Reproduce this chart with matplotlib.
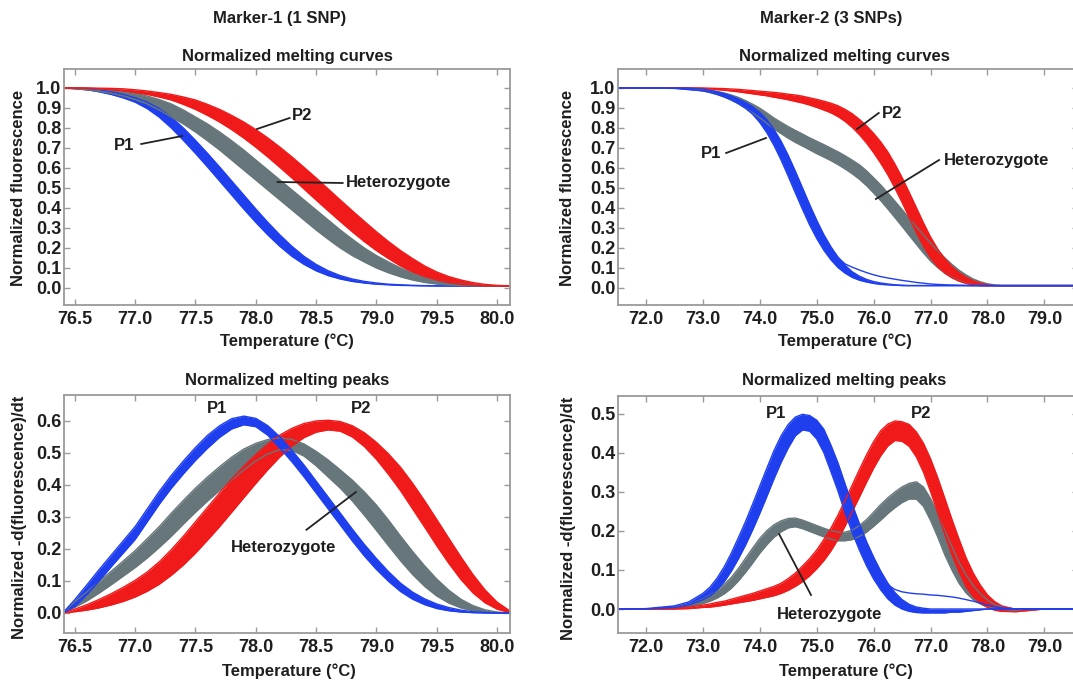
import numpy as np
import matplotlib
matplotlib.use("Agg")
import matplotlib.pyplot as plt

plt.rcParams['font.family'] = ['Liberation Sans', 'DejaVu Sans']
plt.rcParams['font.weight'] = 'bold'

BLUE = '#1f3fef'
RED = '#f01a1a'
GREY = '#66767a'
TXT = '#1e1e1e'
FRAME = '#9a9a9a'

# ---- Marker-1 melting curves (panel A) ----
t_m1 = [76.4, 76.5, 76.6, 76.7, 76.8, 76.9, 77.0, 77.1, 77.2, 77.3,
        77.4, 77.5, 77.6, 77.7, 77.8, 77.9, 78.0, 78.1, 78.2, 78.3,
        78.4, 78.5, 78.6, 78.7, 78.8, 78.9, 79.0, 79.1, 79.2, 79.3,
        79.4, 79.5, 79.6, 79.7, 79.8, 79.9, 80.0, 80.1, 80.2]
a_p1_hi = [1.0, 1.0, 0.997, 0.991, 0.981, 0.968, 0.951, 0.929, 0.897, 0.854,
           0.80, 0.738, 0.673, 0.605, 0.535, 0.465, 0.395, 0.328, 0.265, 0.208,
           0.158, 0.118, 0.086, 0.062, 0.045, 0.033, 0.025, 0.019, 0.016, 0.013,
           0.012, 0.011] + [0.01] * 7
a_p1_lo = [1.0, 0.997, 0.991, 0.981, 0.968, 0.951, 0.929, 0.897, 0.854, 0.80,
           0.738, 0.673, 0.605, 0.535, 0.465, 0.395, 0.328, 0.265, 0.208, 0.158,
           0.118, 0.086, 0.062, 0.045, 0.033, 0.025, 0.019, 0.016, 0.013, 0.012,
           0.011] + [0.01] * 8
a_het_hi = [1.0, 1.0, 0.999, 0.996, 0.991, 0.984, 0.974, 0.96, 0.942, 0.92,
            0.89, 0.855, 0.82, 0.78, 0.736, 0.69, 0.64, 0.59, 0.54, 0.49,
            0.44, 0.39, 0.34, 0.29, 0.244, 0.20, 0.162, 0.13, 0.1, 0.076,
            0.056, 0.04, 0.028, 0.02, 0.015, 0.012, 0.011, 0.01, 0.01]
a_het_lo = [1.0, 0.996, 0.991, 0.984, 0.974, 0.96, 0.942, 0.92, 0.89, 0.855,
            0.82, 0.78, 0.736, 0.69, 0.64, 0.59, 0.54, 0.49, 0.44, 0.39,
            0.34, 0.29, 0.244, 0.20, 0.162, 0.13, 0.1, 0.076, 0.056, 0.04,
            0.028, 0.02, 0.015, 0.012, 0.011, 0.01, 0.01, 0.01, 0.01]
a_p2_hi = [1.0, 1.0, 1.0, 0.999, 0.998, 0.996, 0.991, 0.985, 0.977, 0.968,
           0.955, 0.94, 0.918, 0.893, 0.863, 0.83, 0.792, 0.75, 0.704, 0.655,
           0.603, 0.55, 0.495, 0.44, 0.386, 0.333, 0.281, 0.232, 0.187, 0.147,
           0.11, 0.08, 0.057, 0.04, 0.027, 0.018, 0.013, 0.011, 0.01]
a_p2_lo = [1.0, 0.999, 0.998, 0.996, 0.991, 0.985, 0.977, 0.968, 0.955, 0.94,
           0.918, 0.893, 0.863, 0.83, 0.792, 0.75, 0.704, 0.655, 0.603, 0.55,
           0.495, 0.44, 0.386, 0.333, 0.281, 0.232, 0.187, 0.147, 0.11, 0.08,
           0.057, 0.04, 0.027, 0.018, 0.013, 0.011, 0.01, 0.01, 0.01]

# ---- Marker-1 melting peaks (panel C) ----
c_p1_hi = [0.0, 0.042, 0.088, 0.135, 0.18, 0.225, 0.27, 0.325, 0.38, 0.43,
           0.475, 0.517, 0.555, 0.585, 0.607, 0.615, 0.608, 0.585, 0.55, 0.508,
           0.462, 0.412, 0.362, 0.312, 0.262, 0.214, 0.17, 0.129, 0.093, 0.065,
           0.044, 0.028, 0.017, 0.009, 0.004, 0.002, 0.0, 0.0, 0.0]
c_p1_lo = [0.0, 0.02, 0.058, 0.1, 0.144, 0.187, 0.23, 0.285, 0.34, 0.39,
           0.435, 0.477, 0.515, 0.549, 0.575, 0.588, 0.582, 0.555, 0.515, 0.472,
           0.425, 0.375, 0.325, 0.275, 0.225, 0.178, 0.136, 0.099, 0.067, 0.043,
           0.026, 0.014, 0.007, 0.003, 0.001, 0.0, 0.0, 0.0, 0.0]
c_het_hi = [0.0, 0.035, 0.066, 0.098, 0.13, 0.162, 0.195, 0.232, 0.27, 0.312,
            0.352, 0.39, 0.425, 0.457, 0.487, 0.512, 0.53, 0.542, 0.547, 0.542,
            0.528, 0.505, 0.478, 0.447, 0.415, 0.378, 0.337, 0.29, 0.24, 0.192,
            0.147, 0.106, 0.071, 0.043, 0.023, 0.01, 0.003, 0.0, 0.0]
c_het_lo = [0.0, 0.018, 0.038, 0.062, 0.088, 0.115, 0.142, 0.172, 0.205, 0.24,
            0.278, 0.315, 0.35, 0.383, 0.415, 0.447, 0.475, 0.497, 0.51, 0.508,
            0.49, 0.46, 0.425, 0.39, 0.35, 0.305, 0.258, 0.21, 0.163, 0.12,
            0.083, 0.053, 0.031, 0.016, 0.007, 0.002, 0.0, 0.0, 0.0]
c_p2_hi = [0.0, 0.012, 0.026, 0.042, 0.06, 0.08, 0.102, 0.128, 0.16, 0.198,
           0.24, 0.285, 0.33, 0.375, 0.418, 0.458, 0.495, 0.528, 0.556, 0.577,
           0.592, 0.6, 0.602, 0.598, 0.585, 0.563, 0.533, 0.497, 0.455, 0.405,
           0.35, 0.292, 0.233, 0.175, 0.12, 0.072, 0.034, 0.008, 0.0]
c_p2_lo = [0.0, 0.004, 0.009, 0.016, 0.025, 0.036, 0.05, 0.068, 0.09, 0.118,
           0.15, 0.187, 0.228, 0.27, 0.315, 0.36, 0.405, 0.448, 0.488, 0.522,
           0.548, 0.565, 0.572, 0.568, 0.55, 0.52, 0.48, 0.433, 0.382, 0.325,
           0.268, 0.21, 0.155, 0.105, 0.063, 0.032, 0.012, 0.002, 0.0]

# ---- Marker-2 melting curves (panel B) ----
t_m2 = [71.5, 72.0, 72.5, 72.75, 73.0, 73.125, 73.25, 73.375, 73.5, 73.625,
        73.75, 73.875, 74.0, 74.125, 74.25, 74.375, 74.5, 74.625, 74.75, 74.875,
        75.0, 75.125, 75.25, 75.375, 75.5, 75.625, 75.75, 75.875, 76.0, 76.125,
        76.25, 76.375, 76.5, 76.625, 76.75, 76.875, 77.0, 77.125, 77.25, 77.375,
        77.5, 77.625, 77.75, 77.875, 78.0, 78.125, 78.25, 78.5, 79.0, 79.5]
b_p1_hi = [1.0, 1.0, 1.0, 0.999, 0.995, 0.988, 0.981, 0.972, 0.96, 0.945,
           0.928, 0.906, 0.878, 0.841, 0.793, 0.734, 0.663, 0.584, 0.501, 0.418,
           0.339, 0.267, 0.206, 0.154, 0.113, 0.081, 0.059, 0.043, 0.032, 0.025,
           0.02, 0.016, 0.014] + [0.012] * 17
b_p1_lo = [1.0, 1.0, 0.998, 0.992, 0.986, 0.979, 0.969, 0.956, 0.941, 0.922,
           0.899, 0.869, 0.828, 0.776, 0.713, 0.64, 0.559, 0.476, 0.394, 0.316,
           0.248, 0.189, 0.141, 0.102, 0.074, 0.053, 0.039, 0.03, 0.023, 0.018,
           0.016, 0.014, 0.012] + [0.012] * 17
b_p1_tail = [None] * 23 + [0.152, 0.12, 0.104, 0.09, 0.077, 0.066, 0.057, 0.05,
                           0.044, 0.038, 0.033, 0.028, 0.024, 0.02, 0.018, 0.016,
                           0.015, 0.014, 0.013] + [0.012] * 8
b_het_hi = [1.0, 1.0, 1.0, 0.999, 0.993, 0.989, 0.983, 0.975, 0.965, 0.953,
            0.937, 0.919, 0.899, 0.875, 0.85, 0.828, 0.807, 0.788, 0.77, 0.751,
            0.734, 0.717, 0.699, 0.681, 0.661, 0.639, 0.616, 0.586, 0.551, 0.515,
            0.475, 0.434, 0.392, 0.349, 0.307, 0.265, 0.225, 0.186, 0.151, 0.118,
            0.089, 0.065, 0.045, 0.031, 0.021, 0.015, 0.012, 0.012, 0.012, 0.012]
b_het_lo = [1.0, 1.0, 1.0, 0.995, 0.985, 0.977, 0.967, 0.955, 0.939, 0.921,
            0.899, 0.875, 0.851, 0.823, 0.796, 0.772, 0.749, 0.728, 0.71, 0.691,
            0.672, 0.655, 0.637, 0.617, 0.595, 0.571, 0.544, 0.512, 0.475, 0.437,
            0.395, 0.352, 0.308, 0.263, 0.219, 0.175, 0.135, 0.102, 0.075, 0.054,
            0.037, 0.025, 0.017, 0.013, 0.012, 0.012, 0.012, 0.012, 0.012, 0.012]
b_p2_hi = [1.0, 1.0, 1.0, 1.0, 1.0, 0.999, 0.998, 0.997, 0.995, 0.993,
           0.99, 0.987, 0.984, 0.981, 0.978, 0.974, 0.969, 0.965, 0.959, 0.951,
           0.943, 0.934, 0.924, 0.911, 0.893, 0.871, 0.843, 0.811, 0.773, 0.73,
           0.68, 0.619, 0.552, 0.478, 0.402, 0.326, 0.255, 0.195, 0.146, 0.107,
           0.076, 0.053, 0.036, 0.024, 0.016, 0.012, 0.012, 0.012, 0.012, 0.012]
b_p2_lo = [1.0, 1.0, 1.0, 1.0, 0.998, 0.995, 0.992, 0.989, 0.985, 0.981,
           0.976, 0.971, 0.966, 0.961, 0.954, 0.948, 0.941, 0.933, 0.925, 0.915,
           0.903, 0.89, 0.876, 0.857, 0.833, 0.803, 0.767, 0.725, 0.677, 0.624,
           0.566, 0.499, 0.428, 0.352, 0.278, 0.21, 0.151, 0.107, 0.074, 0.051,
           0.034, 0.023, 0.016, 0.012, 0.012, 0.012, 0.012, 0.012, 0.012, 0.012]

# ---- Marker-2 melting peaks (panel D) ----
d_p1_hi = [0.0, 0.001, 0.008, 0.018, 0.04, 0.056, 0.079, 0.108, 0.143, 0.183,
           0.224, 0.269, 0.315, 0.361, 0.406, 0.444, 0.473, 0.492, 0.499, 0.496,
           0.484, 0.461, 0.42, 0.374, 0.32, 0.268, 0.219, 0.173, 0.133, 0.097,
           0.066, 0.042, 0.024, 0.012, 0.005, 0.002, 0.0, 0.0, 0.0, 0.0,
           0.0, 0.0, 0.0, 0.0, 0.0, 0.0, 0.0, 0.0, 0.0, 0.0]
d_p1_lo = [0.0, 0.0, 0.004, 0.01, 0.024, 0.034, 0.049, 0.07, 0.097, 0.129,
           0.164, 0.203, 0.245, 0.289, 0.334, 0.376, 0.413, 0.444, 0.459, 0.456,
           0.436, 0.401, 0.352, 0.302, 0.246, 0.196, 0.151, 0.111, 0.077, 0.049,
           0.026, 0.01, 0.0, -0.006, -0.009, -0.01, -0.01, -0.01, -0.01, -0.008,
           -0.008, -0.006, -0.004, -0.002, 0.0, 0.0, 0.0, 0.0, 0.0, 0.0]
d_p1_tail = [None] * 30 + [0.062, 0.05, 0.044, 0.041, 0.039, 0.038, 0.036, 0.035,
                           0.033, 0.031, 0.028, 0.024, 0.02, 0.015, 0.01, 0.006,
                           0.003, 0.0, 0.0, 0.0]
d_het_hi = [0.0, 0.0, 0.005, 0.011, 0.026, 0.036, 0.048, 0.063, 0.081, 0.104,
            0.13, 0.156, 0.181, 0.201, 0.216, 0.226, 0.232, 0.233, 0.228, 0.221,
            0.214, 0.207, 0.201, 0.197, 0.197, 0.202, 0.214, 0.229, 0.248, 0.268,
            0.285, 0.3, 0.313, 0.322, 0.326, 0.313, 0.283, 0.245, 0.201, 0.16,
            0.12, 0.087, 0.06, 0.039, 0.023, 0.011, 0.005, 0.0, 0.0, 0.0]
d_het_lo = [0.0, 0.0, 0.001, 0.005, 0.014, 0.02, 0.028, 0.039, 0.053, 0.072,
            0.094, 0.118, 0.143, 0.165, 0.184, 0.198, 0.208, 0.211, 0.206, 0.199,
            0.192, 0.185, 0.179, 0.175, 0.175, 0.178, 0.186, 0.197, 0.212, 0.228,
            0.245, 0.26, 0.273, 0.282, 0.282, 0.263, 0.227, 0.185, 0.139, 0.1,
            0.066, 0.041, 0.024, 0.013, 0.005, 0.001, -0.001, -0.004, 0.0, 0.0]
d_p2_hi = [0.0, 0.0, 0.002, 0.005, 0.01, 0.013, 0.017, 0.02, 0.025, 0.03,
           0.035, 0.04, 0.046, 0.052, 0.058, 0.066, 0.078, 0.092, 0.11, 0.129,
           0.151, 0.178, 0.207, 0.241, 0.279, 0.318, 0.357, 0.395, 0.429, 0.457,
           0.474, 0.482, 0.48, 0.473, 0.454, 0.425, 0.385, 0.337, 0.284, 0.23,
           0.179, 0.131, 0.092, 0.061, 0.036, 0.019, 0.008, -0.001, 0.0, 0.0]
d_p2_lo = [0.0, 0.0, 0.0, 0.001, 0.004, 0.005, 0.007, 0.01, 0.013, 0.016,
           0.019, 0.022, 0.026, 0.03, 0.034, 0.04, 0.048, 0.058, 0.07, 0.085,
           0.103, 0.124, 0.149, 0.179, 0.213, 0.25, 0.287, 0.325, 0.361, 0.393,
           0.418, 0.432, 0.43, 0.417, 0.39, 0.351, 0.301, 0.247, 0.192, 0.14,
           0.095, 0.057, 0.032, 0.015, 0.004, -0.003, -0.006, -0.007, 0.0, 0.0]

x_ticks_m1 = [76.5, 77.0, 77.5, 78.0, 78.5, 79.0, 79.5, 80.0]
x_ticks_m2 = [72.0, 73.0, 74.0, 75.0, 76.0, 77.0, 78.0, 79.0]

W, H = 1073, 684
fig = plt.figure(figsize=(W / 100, H / 100), dpi=100)


def px_axes(left, top, right, bottom):
    return fig.add_axes([left / W, 1 - bottom / H, (right - left) / W, (bottom - top) / H])


def band(ax, t, lo, hi, color):
    t = np.array(t, dtype=float)
    lo = np.array(lo, dtype=float)
    hi = np.array(hi, dtype=float)
    ax.fill_between(t, lo, hi, color=color, lw=0)
    ax.plot(t, lo, color=color, lw=1.0)
    ax.plot(t, hi, color=color, lw=1.0)


def tail(ax, t, y, color):
    y = np.array([np.nan if v is None else v for v in y], dtype=float)
    ax.plot(t, y, color=color, lw=1.0)


def style(ax, xlim, ylim, xt, yt):
    ax.set_xlim(*xlim)
    ax.set_ylim(*ylim)
    ax.set_xticks(xt)
    ax.set_xticklabels(['%.1f' % v for v in xt])
    ax.set_yticks(yt)
    ax.set_yticklabels(['%.1f' % v for v in yt])
    for s in ax.spines.values():
        s.set_color(FRAME)
        s.set_linewidth(1.3)
    ax.tick_params(direction='in', length=4, width=1, color=FRAME,
                   top=True, right=True, labelsize=13, labelcolor=TXT)
    ax.tick_params(axis='x', pad=4)
    ax.tick_params(axis='y', pad=2)


def label(ax, s, xy, ha='center'):
    ax.text(xy[0], xy[1], s, ha=ha, va='center', fontsize=12, color=TXT, fontweight='bold')


def pointer(ax, p0, p1):
    ax.plot([p0[0], p1[0]], [p0[1], p1[1]], color='#222222', lw=1.3)


# Panel A
ax = px_axes(64, 69, 510, 305)
band(ax, t_m1, a_p1_lo, a_p1_hi, BLUE)
band(ax, t_m1, a_het_lo, a_het_hi, GREY)
band(ax, t_m1, a_p2_lo, a_p2_hi, RED)
style(ax, (76.41, 80.107), (-0.085, 1.095), x_ticks_m1, [i / 10 for i in range(11)])
pointer(ax, (78.01, 0.795), (78.28, 0.85))
label(ax, 'P2', (78.30, 0.86), ha='left')
pointer(ax, (77.05, 0.72), (77.39, 0.76))
label(ax, 'P1', (76.91, 0.71))
pointer(ax, (78.18, 0.53), (78.72, 0.525))
label(ax, 'Heterozygote', (78.75, 0.525), ha='left')

# Panel B
ax = px_axes(618, 69, 1078, 305)
band(ax, t_m2, b_het_lo, b_het_hi, GREY)
band(ax, t_m2, b_p2_lo, b_p2_hi, RED)
tail(ax, t_m2, b_p1_tail, BLUE)
band(ax, t_m2, b_p1_lo, b_p1_hi, BLUE)
style(ax, (71.51, 79.59), (-0.085, 1.095), x_ticks_m2, [i / 10 for i in range(11)])
pointer(ax, (75.71, 0.795), (76.09, 0.875))
label(ax, 'P2', (76.15, 0.875), ha='left')
pointer(ax, (73.41, 0.675), (74.11, 0.75))
label(ax, 'P1', (73.14, 0.67))
pointer(ax, (76.04, 0.445), (77.15, 0.64))
label(ax, 'Heterozygote', (77.24, 0.64), ha='left')

# Panel C
ax = px_axes(64, 395, 510, 633)
band(ax, t_m1, c_het_lo, c_het_hi, GREY)
band(ax, t_m1, c_p2_lo, c_p2_hi, RED)
band(ax, t_m1, c_p1_lo, c_p1_hi, BLUE)
style(ax, (76.41, 80.107), (-0.0625, 0.681), x_ticks_m1, [i / 10 for i in range(7)])
label(ax, 'P1', (77.68, 0.6375))
label(ax, 'P2', (78.87, 0.6375))
pointer(ax, (78.42, 0.26), (78.83, 0.378))
label(ax, 'Heterozygote', (78.23, 0.206))

# Panel D
ax = px_axes(618, 396, 1078, 633)
band(ax, t_m2, d_het_lo, d_het_hi, GREY)
band(ax, t_m2, d_p2_lo, d_p2_hi, RED)
tail(ax, t_m2, d_p1_tail, BLUE)
band(ax, t_m2, d_p1_lo, d_p1_hi, BLUE)
style(ax, (71.51, 79.59), (-0.0615, 0.546), x_ticks_m2, [i / 10 for i in range(6)])
label(ax, 'P1', (74.28, 0.5))
label(ax, 'P2', (76.83, 0.5))
pointer(ax, (74.34, 0.192), (74.9, 0.036))
label(ax, 'Heterozygote', (75.22, -0.013))


def ftext(x, y, s, rot=0):
    fig.text(x / W, 1 - y / H, s, ha='center', va='center', rotation=rot,
             fontsize=12, color=TXT, fontweight='bold')


ftext(280, 18, 'Marker-1 (1 SNP)')
ftext(831, 18, 'Marker-2 (3 SNPs)')
ftext(287, 57, 'Normalized melting curves')
ftext(844, 57, 'Normalized melting curves')
ftext(287, 380, 'Normalized melting peaks')
ftext(844, 380, 'Normalized melting peaks')
ftext(287, 341, 'Temperature (°C)')
ftext(845, 341, 'Temperature (°C)')
ftext(289, 671, 'Temperature (°C)')
ftext(846, 671, 'Temperature (°C)')
ftext(19, 188, 'Normalized fluorescence', 90)
ftext(567, 188, 'Normalized fluorescence', 90)
ftext(20, 517, 'Normalized -d(fluorescence)/dt', 90)
ftext(568, 518, 'Normalized -d(fluorescence)/dt', 90)

fig.savefig('out.png', dpi=100)
